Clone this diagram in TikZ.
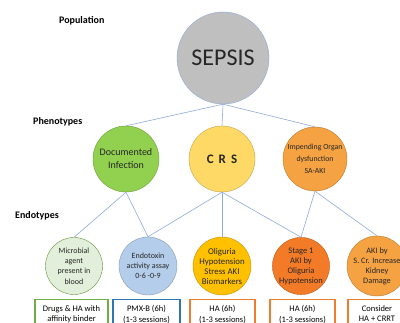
\documentclass[tikz,border=0pt]{standalone}
\usepackage{fontspec}
\setmainfont{Carlito}
\definecolor{edgec}{HTML}{8FAADC}
\definecolor{sepsisc}{HTML}{BFBFBF}
\definecolor{docc}{HTML}{92D050}
\definecolor{crsc}{HTML}{FFD966}
\definecolor{impc}{HTML}{F5A243}
\definecolor{micc}{HTML}{E2EFDA}
\definecolor{endoc}{HTML}{B4CDEA}
\definecolor{oligc}{HTML}{FFC000}
\definecolor{stagec}{HTML}{F37A26}
\definecolor{akic}{HTML}{F5A243}
\definecolor{greenb}{HTML}{70AD47}
\definecolor{blueb}{HTML}{2E75B6}
\definecolor{orangeb}{HTML}{ED7D31}
\newcommand\therapytext[2]{\begin{minipage}[t][30pt][t]{#1}\centering #2\end{minipage}}
\begin{document}
\begin{tikzpicture}[x=1pt,y=-1pt,
  conn/.style={draw=edgec,line width=0.6pt},
  bubble/.style={circle,draw=#1!75!black,line width=0.4pt,inner sep=0pt,align=center,text=black!85},
  level/.style={font=\fontsize{10}{12}\selectfont\bfseries,anchor=west,inner sep=0pt},
  therapy/.style={draw=#1,line width=1.2pt,fill=white,anchor=north,
    font=\fontsize{8.5}{10.3}\selectfont,inner xsep=1pt,inner ysep=6pt}]
\clip (0,0) rectangle (400,323);
\fill[white] (0,0) rectangle (400,323);
% level labels
\node[level] (pop) at (59,21) {Population};
\node[level] (phe) at (33,122) {Phenotypes};
\node[level] (ent) at (15,216) {Endotypes};
% population
\node[bubble=edgec,fill=sepsisc,draw=edgec,minimum size=92pt,font=\fontsize{24}{28}\selectfont] (sepsis) at (223,58) {SEPSIS};
% phenotypes
\node[bubble=docc,fill=docc,minimum size=66pt,font=\fontsize{10}{13}\selectfont] (doc) at (126,159) {Documented\\Infection};
\node[bubble=crsc,fill=crsc,minimum size=66pt,font=\fontsize{13}{15}\selectfont\bfseries] (crs) at (222,159) {\spaceskip=5pt C R S};
\node[bubble=impc,fill=impc,minimum size=64pt,font=\fontsize{7.8}{12.3}\selectfont] (imp) at (315,159) {Impending Organ\\dysfunction\\SA-AKI};
% endotypes
\node[bubble=micc,fill=micc,draw=docc!70!black,minimum size=57pt,font=\fontsize{8}{10.2}\selectfont] (mic) at (74,266) {Microbial\\agent\\present in\\blood};
\node[bubble=endoc,fill=endoc,minimum size=58pt,font=\fontsize{8}{10}\selectfont] (endo) at (148,266) {Endotoxin\\activity assay\\0-6 -0-9};
\node[bubble=oligc,fill=oligc,minimum size=58pt,font=\fontsize{8.8}{10}\selectfont] (olig) at (222,266) {Oliguria\\Hypotension\\Stress AKI\\Biomarkers};
\node[bubble=stagec,fill=stagec,minimum size=57pt,font=\fontsize{8.5}{10}\selectfont] (stage) at (301,266) {Stage 1\\AKI by\\Oliguria\\Hypotension};
\node[bubble=akic,fill=akic,minimum size=57pt,font=\fontsize{8.3}{10}\selectfont] (aki) at (377,266) {AKI by\\S. Cr. Increase\\Kidney\\Damage};
% connectors
\draw[conn] (sepsis.south) -- (doc.north);
\draw[conn] (sepsis.south) -- (crs.north);
\draw[conn] (sepsis.south) -- (imp.north);
\draw[conn] (doc.south) -- (mic.north);
\draw[conn] (doc.south) -- (endo.north);
\draw[conn] (crs.south) -- (endo.north);
\draw[conn] (crs.south) -- (olig.north);
\draw[conn] (crs.south) -- (stage.north);
\draw[conn] (imp.south) -- (stage.north);
\draw[conn] (imp.south) -- (aki.north);
% therapies
\node[therapy=greenb] (t1) at (71.5,299) {\therapytext{71pt}{Drugs \& HA with\\affinity binder}};
\node[therapy=blueb] (t2) at (146.5,299) {\therapytext{65pt}{PMX-B (6h)\\(1-3 sessions)}};
\node[therapy=orangeb] (t3) at (222.5,299) {\therapytext{63pt}{HA (6h)\\(1-3 sessions)}};
\node[therapy=orangeb] (t4) at (302.5,299) {\therapytext{63pt}{HA (6h)\\(1-3 sessions)}};
\node[therapy=orangeb] (t5) at (377,299) {\therapytext{56pt}{Consider\\HA + CRRT}};
\end{tikzpicture}
\end{document}
